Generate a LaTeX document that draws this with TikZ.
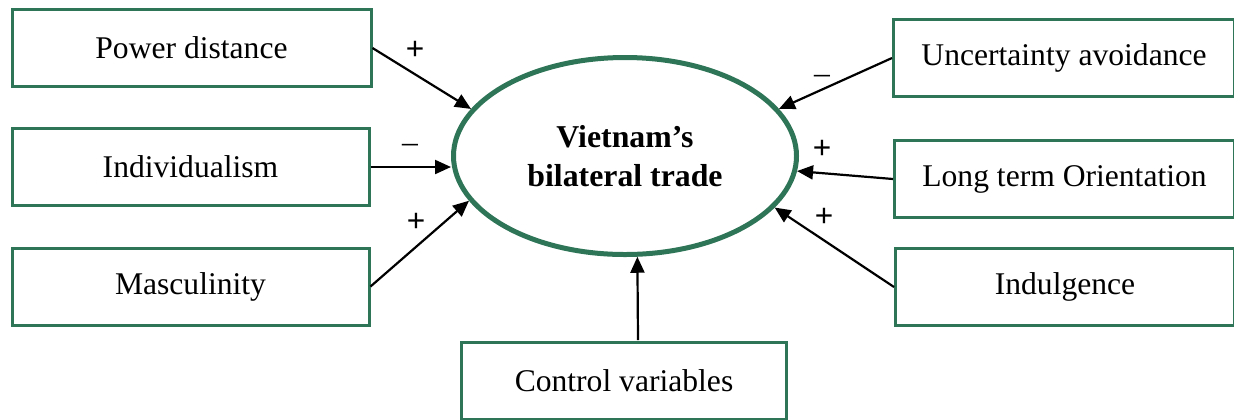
\documentclass[tikz,border=0pt]{standalone}
\usepackage{fontspec}
\setmainfont{Liberation Serif}
\newfontfamily\signfont{Liberation Sans}
\usetikzlibrary{shapes.geometric,arrows.meta}
\definecolor{boxgreen}{RGB}{46,117,88}
\tikzset{
  factor/.style={draw=boxgreen, line width=1.5pt, rectangle, inner sep=0pt,
    minimum height=38.5pt, font=\fontsize{15.8}{19}\selectfont},
  outcome/.style={draw=boxgreen, line width=2.5pt, ellipse, inner sep=0pt,
    minimum width=171.5pt, minimum height=98.5pt, align=center,
    font=\fontsize{15.9}{19.5}\selectfont\bfseries},
  link/.style={line width=1.1pt, -{Triangle[length=8pt,width=7pt]}},
  plus/.style={font=\signfont\fontsize{15.8}{19}\selectfont, inner sep=0pt},
  minus/.style={font=\fontsize{15.8}{19}\selectfont, inner sep=0pt}
}
\begin{document}
\begin{tikzpicture}[x=0.5pt,y=-0.5pt]
\useasboundingbox (0,0) rectangle (1234,419);

% dependent variable
\node[outcome] (v) at (625,156) {Vietnam’s\\bilateral trade};

% cultural dimensions, left column
\node[factor, minimum width=179.5pt] (pd)   at (191.5,48)  {Power distance};
\node[factor, minimum width=178.5pt] (ind)  at (190.5,167) {Individualism};
\node[factor, minimum width=178.5pt] (masc) at (190.5,286.5) {Masculinity};

% cultural dimensions, right column
\node[factor, minimum width=170.5pt] (ua)  at (1064,58)  {Uncertainty avoidance};
\node[factor, minimum width=170pt]   (lto) at (1064.5,179) {Long term Orientation};
\node[factor, minimum width=169.5pt] (idg) at (1065,287) {Indulgence};

% controls
\node[factor, minimum width=162.5pt] (cv) at (624,380.5) {Control variables};

% connectors
\draw[link] (pd.east)   -- (v.163.6);
\coordinate (indtip) at (451,167);
\draw[link] (ind.east)  -- (indtip);
\draw[link] (masc.east) -- (v.196.1);
\draw[link] (ua.west)   -- (v.17);
\draw[link] (lto.west)  -- (v.-5.1);
\draw[link] (idg.west)  -- (v.-19.4);
\coordinate (cvtop) at (638,340);
\draw[link] (cvtop) -- (v.277.4);

% signs of the expected effects
\node[plus]  (spd)  at (415,50)  {+};
\node[minus] (sind) at (410,148) {–};
\node[plus]  (sms)  at (416,222) {+};
\node[minus] (sua)  at (822,79)  {–};
\node[plus]  (slt)  at (822,149) {+};
\node[plus]  (sid)  at (824,217) {+};
\end{tikzpicture}
\end{document}
